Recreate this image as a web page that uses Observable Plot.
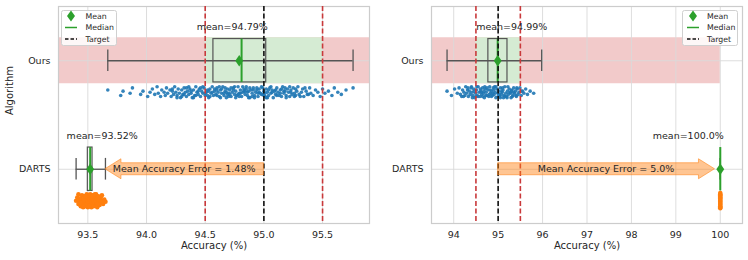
<!DOCTYPE html>
<html><head><meta charset="utf-8">
<script src="https://cdn.jsdelivr.net/npm/d3@7"></script>
<script src="https://cdn.jsdelivr.net/npm/@observablehq/plot@0.6"></script>
<style>
body{margin:0;background:#fff;font-family:"DejaVu Sans",sans-serif;}
#wrap{display:flex;width:748px;height:260px;}
.panel{position:relative;width:374px;height:260px;}
.legend{position:absolute;}
</style>
</head><body><div id="wrap"></div>
<script>
// ---------- data ----------
const algorithms = ["Ours", "DARTS"];
const targets = [95.0, 95.0];
const tolerance = 0.5;
const xDomains = [[93.25, 95.9], [93.5, 100.5]];
const tickValues = [[93.5, 94.0, 94.5, 95.0, 95.5], [94, 95, 96, 97, 98, 99, 100]];
const tickLabels = [["93.5", "94.0", "94.5", "95.0", "95.5"], ["94", "95", "96", "97", "98", "99", "100"]];
// per panel: [Ours, DARTS]
const whiskerLo = [[93.67, 93.40], [93.85, 100.0]];
const boxQ1     = [[94.57, 93.50], [94.78, 100.0]];
const medians   = [[94.81, 93.52], [94.99, 100.0]];
const boxQ3     = [[95.02, 93.54], [95.21, 100.0]];
const whiskerHi = [[95.76, 93.65], [95.98, 100.0]];
const means     = [[94.79, 93.52], [94.99, 100.0]];
const arrowTips = [93.65, 99.88];
const redBand = [0, 100];
// strip points: [accuracy, jitter (hundredths of a row)]
const oursStripLeft = [[93.67,-2],[93.78,3],[93.80,-1],[93.86,1],[93.88,-4],[93.95,2],[93.97,-1],[94.01,4],[94.03,0],[94.05,-3],[94.07,2],[94.09,-5],[94.10,1],[94.12,4],[94.13,-2],[94.15,0],[94.16,3],[94.17,-4],[94.18,1],[94.20,-2],[94.21,4],[94.22,-1],[94.23,2],[94.24,-5],[94.25,0],[94.26,3],[94.27,-3],[94.28,1],[94.29,5],[94.30,-2],[94.31,2],[94.32,-4],[94.33,0],[94.34,4],[94.35,-1],[94.36,2],[94.37,-3],[94.38,1],[94.39,5],[94.40,-2],[94.41,3],[94.42,-5],[94.43,0],[94.44,2],[94.45,-3],[94.46,4],[94.47,-1],[94.48,1],[94.49,-4],[94.50,3],[94.51,0],[94.52,-2],[94.53,5],[94.54,-3],[94.55,1],[94.56,-5],[94.57,3],[94.58,-1],[94.59,2],[94.60,-4],[94.61,0],[94.62,4],[94.63,-2],[94.64,1],[94.65,-5],[94.66,3],[94.67,-1],[94.68,5],[94.69,-3],[94.70,1],[94.71,-2],[94.72,4],[94.73,0],[94.74,-4],[94.75,2],[94.76,-1],[94.77,3],[94.78,-5],[94.79,1],[94.80,-2],[94.81,4],[94.82,0],[94.83,-3],[94.84,2],[94.85,-5],[94.86,3],[94.87,-1],[94.88,5],[94.89,-2],[94.90,1],[94.91,-4],[94.92,3],[94.93,0],[94.94,-2],[94.95,4],[94.96,-3],[94.97,1],[94.98,-5],[94.99,2],[95.00,-1],[95.01,4],[95.02,-3],[95.03,0],[95.04,3],[95.05,-4],[95.06,1],[95.07,-2],[95.08,5],[95.09,-1],[95.10,2],[95.11,-4],[95.12,0],[95.13,3],[95.14,-2],[95.15,4],[95.16,-5],[95.17,1],[95.18,-1],[95.19,3],[95.20,-3],[95.21,0],[95.22,4],[95.23,-2],[95.24,2],[95.25,-4],[95.26,1],[95.27,3],[95.28,-1],[95.29,-5],[95.30,2],[95.32,0],[95.33,-3],[95.34,4],[95.36,-1],[95.37,2],[95.39,-4],[95.40,1],[95.42,3],[95.44,-2],[95.46,0],[95.48,4],[95.50,-3],[95.52,1],[95.55,-1],[95.58,3],[95.60,-4],[95.63,0],[95.66,2],[95.70,-2],[95.76,-4],
  [94.30,4],[94.34,-4],[94.38,-1],[94.42,3],[94.46,-4],[94.50,1],[94.54,4],[94.58,-3],[94.62,-5],[94.66,1],[94.70,4],[94.74,-2],[94.78,2],[94.82,-5],[94.86,0],[94.90,4],[94.94,-4],[94.98,2],[95.02,5],[95.06,-5],[95.10,-2],[95.14,1],[95.18,-4],[95.22,-5],[95.26,4],[94.60,3],[94.64,-3],[94.68,0],[94.72,-4],[94.76,5],[94.80,1],[94.84,-1],[94.88,-4],[94.92,5],[94.96,0],[95.00,3],[95.04,-2],
  [94.22,-3],[94.26,5],[94.32,2],[94.36,-5],[94.40,5],[94.44,-1],[94.48,-5],[94.52,3],[94.56,0],[94.60,-2],[94.63,5],[94.67,-4],[94.71,2],[94.75,-5],[94.79,4],[94.83,-1],[94.87,5],[94.91,-2],[94.95,1],[94.99,-4],[95.03,5],[95.07,0],[95.11,3],[95.15,-3],[95.19,5],[95.23,0],[95.27,-3],[95.31,4],[95.35,-4],[95.38,2],[94.53,-1],[94.69,2],[94.85,-3],[95.01,1],[95.17,-1]];
const oursStripRight = [[93.85,-1],[93.95,3],[94.02,-3],[94.08,1],[94.12,-4],[94.15,2],[94.18,4],[94.20,-2],[94.23,0],[94.25,3],[94.27,-5],[94.29,1],[94.31,-2],[94.33,4],[94.35,-1],[94.37,2],[94.39,-4],[94.41,0],[94.43,3],[94.45,-3],[94.47,5],[94.49,1],[94.51,-2],[94.53,3],[94.55,-5],[94.57,0],[94.59,4],[94.61,-1],[94.63,2],[94.65,-4],[94.67,1],[94.69,5],[94.71,-3],[94.73,0],[94.75,3],[94.77,-2],[94.79,4],[94.81,-5],[94.83,1],[94.85,-1],[94.87,3],[94.89,-4],[94.91,2],[94.93,0],[94.95,5],[94.97,-3],[94.99,1],[95.01,-1],[95.03,4],[95.05,-4],[95.07,2],[95.09,0],[95.11,-2],[95.13,3],[95.15,-5],[95.17,1],[95.19,4],[95.21,-1],[95.23,2],[95.25,-3],[95.27,0],[95.29,5],[95.31,-2],[95.33,3],[95.35,-4],[95.37,1],[95.39,-1],[95.41,4],[95.43,-3],[95.45,2],[95.47,0],[95.49,-4],[95.52,3],[95.55,-1],[95.58,1],[95.62,-3],[95.66,2],[95.72,-1],[95.80,1],
  [94.40,-5],[94.50,4],[94.60,-3],[94.70,-5],[94.80,2],[94.90,-2],[95.00,4],[95.10,-4],[95.20,5],[95.30,-1],[95.40,3],[94.55,4],[94.75,-4],[94.95,-5],[95.15,4],[95.35,0],[94.65,4],[94.85,4],[95.05,5],
  [94.22,4],[94.32,-4],[94.42,5],[94.52,-5],[94.62,0],[94.72,3],[94.82,-2],[94.92,-5],[95.02,2],[95.12,5],[95.22,-5],[95.32,4],[95.42,-4],[95.52,-1],[94.46,-1],[94.68,-1],[94.88,1],[95.08,-1],[95.28,1]];
const dartsStripLeft = [[93.40,0],[93.41,-3],[93.42,3],[93.42,-6],[93.43,1],[93.44,5],[93.44,-2],[93.45,-5],[93.45,3],[93.46,0],[93.46,6],[93.47,-4],[93.47,2],[93.48,-1],[93.48,5],[93.49,-6],[93.49,3],[93.50,0],[93.50,-3],[93.50,6],[93.51,-5],[93.51,2],[93.52,-1],[93.52,4],[93.52,-6],[93.53,1],[93.53,-3],[93.53,6],[93.54,-2],[93.54,3],[93.55,-5],[93.55,0],[93.55,5],[93.56,-3],[93.56,2],[93.57,-6],[93.57,0],[93.57,4],[93.58,-2],[93.58,6],[93.59,-4],[93.59,1],[93.60,-1],[93.60,4],[93.61,-3],[93.61,2],[93.62,0],[93.62,-5],[93.63,3],[93.64,-1],[93.65,1],[93.46,-1],[93.48,-4],[93.51,5],[93.54,-5],[93.56,-6],[93.58,3],[93.43,-2],[93.44,2]];
const dartsStripRight = [[100,-7],[100,-6],[100,-4],[100,-2],[100,0],[100,2],[100,4],[100,6],[100,7],[100,-5],[100,-3],[100,1],[100,5],[100,-1],[100,3]];
const oursStrips = [oursStripLeft, oursStripRight];
const dartsStrips = [dartsStripLeft, dartsStripRight];

// ---------- styles ----------
const C = {
  text: "#262626", grid: "#d9d9d9", frame: "#cccccc", whisk: "#555555",
  green: "#2ca02c", blue: "#1f77b4", orange: "#ff7f0e", red: "#c9393b",
  redBand: "#f2caca", greenBand: "#d5ebd3"
};
const labelDx = [[-7, 12], [14, -32]];
const stripOffset = 0.29;

function py(v) { const r = Math.round(v * 100) / 100; return Number.isInteger(r) ? r.toFixed(1) : String(r); }

const thinDiamond = {
  draw(ctx, size) {
    const h = Math.sqrt(size / Math.PI), w = h * 0.68;
    ctx.moveTo(0, -h); ctx.lineTo(w, 0); ctx.lineTo(0, h); ctx.lineTo(-w, 0); ctx.closePath();
  }
};

function makePanel(p) {
  const dom = xDomains[p];
  const tgt = targets[p];
  const rows = algorithms.map((a, i) => ({
    i, lo: whiskerLo[p][i], q1: boxQ1[p][i], med: medians[p][i], q3: boxQ3[p][i],
    hi: whiskerHi[p][i], mean: means[p][i], label: "mean=" + py(means[p][i]) + "%", dx: labelDx[p][i]
  }));
  const ours = oursStrips[p].map(([x, j]) => ({x, y: 0 + stripOffset + j / 100}));
  const darts = dartsStrips[p].map(([x, j]) => ({x, y: 1 + stripOffset + j / 100}));
  const band = [{x1: Math.max(redBand[0], dom[0]), x2: Math.min(redBand[1], dom[1]), y1: -0.212, y2: 0.212}];
  const gband = [{x1: tgt - tolerance, x2: tgt + tolerance, y1: -0.212, y2: 0.212}];
  const dartsMean = means[p][1];
  const err = py(Math.abs(dartsMean - tgt));
  const tip = arrowTips[p];

  const arrow = (index, scales) => {
    const x0 = scales.x(tgt), x1 = scales.x(tip), y = scales.y(1);
    const dir = Math.sign(x1 - x0), hl = 16, bh = 6, hh = 10;
    const xb = x1 - dir * hl;
    const pts = [[x0, y - bh], [xb, y - bh], [xb, y - hh], [x1, y], [xb, y + hh], [xb, y + bh], [x0, y + bh]];
    const g = d3.create("svg:g");
    g.append("path").attr("d", "M" + pts.map(q => q.join(",")).join("L") + "Z")
      .attr("fill", C.orange).attr("fill-opacity", 0.45)
      .attr("stroke", C.orange).attr("stroke-opacity", 0.55).attr("stroke-width", 1);
    g.append("text").attr("x", (x0 + x1) / 2).attr("y", y).attr("dy", "0.35em")
      .attr("text-anchor", "middle").attr("fill", C.text).attr("font-size", "9.5px")
      .text("Mean Accuracy Error = " + err + "%");
    return g.node();
  };

  const marks = [
    Plot.rect(band, {x1: "x1", x2: "x2", y1: "y1", y2: "y2", fill: C.redBand}),
    Plot.rect(gband, {x1: "x1", x2: "x2", y1: "y1", y2: "y2", fill: C.greenBand}),
    Plot.ruleX(tickValues[p], {stroke: C.grid, strokeWidth: 1, strokeOpacity: 0.9}),
    Plot.ruleY([0, 1], {stroke: C.grid, strokeWidth: 1, strokeOpacity: 0.9}),
    Plot.frame({stroke: C.frame, strokeWidth: 1.2}),
    // whiskers and caps
    Plot.ruleY(rows, {y: "i", x1: "lo", x2: "hi", stroke: C.whisk, strokeWidth: 1.3}),
    Plot.ruleX(rows, {x: "lo", y1: d => d.i - 0.1, y2: d => d.i + 0.1, stroke: C.whisk, strokeWidth: 1.3}),
    Plot.ruleX(rows, {x: "hi", y1: d => d.i - 0.1, y2: d => d.i + 0.1, stroke: C.whisk, strokeWidth: 1.3}),
    // boxes
    Plot.rect(rows, {x1: "q1", x2: "q3", y1: d => d.i - 0.2, y2: d => d.i + 0.2, fill: "none", stroke: C.whisk, strokeWidth: 1.2}),
    Plot.ruleX(rows, {x: "med", y1: d => d.i - 0.2, y2: d => d.i + 0.2, stroke: C.green, strokeWidth: 2}),
    // strip points
    Plot.dot(ours, {x: "x", y: "y", r: 1.8, fill: C.blue, fillOpacity: 0.9}),
    Plot.dot(darts, {x: "x", y: "y", r: 2.3, fill: C.orange}),
    // tolerance / target lines
    Plot.ruleX([tgt - tolerance, tgt + tolerance], {stroke: C.red, strokeWidth: 1.6, strokeDasharray: "5,2.5"}),
    Plot.ruleX([tgt], {stroke: "#111", strokeWidth: 1.6, strokeDasharray: "5,2.5"}),
    // means
    Plot.dot(rows, {x: "mean", y: "i", r: 5.8, symbol: thinDiamond, fill: C.green, stroke: "none"}),
    ...rows.map(r => Plot.text([r], {x: "mean", y: d => d.i - 0.31, dx: r.dx, text: "label", fill: C.text, fontSize: 9.5})),
    arrow
  ];
  if (p === 0) {
    marks.push(Plot.text(["Algorithm"], {frameAnchor: "left", dx: -49, rotate: -90, fill: C.text, fontSize: 10}));
  }
  marks.push(Plot.text(["Accuracy (%)"], {frameAnchor: "bottom", dy: 25, fill: C.text, fontSize: 10}));

  return Plot.plot({
    width: 374, height: 260,
    marginLeft: p === 0 ? 58 : 57, marginRight: p === 0 ? 5 : 6, marginTop: 6, marginBottom: 37,
    style: {fontFamily: "DejaVu Sans", fontSize: "9.5px", color: C.text, background: "white"},
    x: {domain: dom, ticks: tickValues[p], tickFormat: d => tickLabels[p][tickValues[p].indexOf(d)], tickSize: 0, tickPadding: 8, label: null},
    y: {domain: [-0.5, 1.5], reverse: true, ticks: [0, 1], tickFormat: i => algorithms[i], tickSize: 0, tickPadding: 8, label: null},
    marks
  });
}

function legend(left, top, glyphX, textX) {
  const div = document.createElement("div");
  div.className = "legend";
  div.style.left = left + "px"; div.style.top = top + "px";
  const w = 55, h = 35;
  const svg = d3.create("svg").attr("width", w + 1).attr("height", h + 1);
  svg.append("rect").attr("x", 0.5).attr("y", 0.5).attr("width", w).attr("height", h).attr("rx", 2)
    .attr("fill", "white").attr("fill-opacity", 0.85).attr("stroke", "#d0d0d0").attr("stroke-width", 1);
  const ys = [6, 17.5, 29];
  svg.append("path").attr("d", `M${glyphX},${ys[0]-5.5}L${glyphX+4},${ys[0]}L${glyphX},${ys[0]+5.5}L${glyphX-4},${ys[0]}Z`).attr("fill", C.green);
  svg.append("line").attr("x1", glyphX - 6).attr("x2", glyphX + 6).attr("y1", ys[1]).attr("y2", ys[1]).attr("stroke", C.green).attr("stroke-width", 1.5);
  svg.append("line").attr("x1", glyphX - 6).attr("x2", glyphX + 6).attr("y1", ys[2]).attr("y2", ys[2]).attr("stroke", "#111").attr("stroke-width", 1.5).attr("stroke-dasharray", "3.5,2");
  ["Mean", "Median", "Target"].forEach((t, k) => {
    svg.append("text").attr("x", textX).attr("y", ys[k]).attr("dy", "0.35em").attr("font-size", "7.8px")
      .attr("font-family", "DejaVu Sans").attr("fill", C.text).text(t);
  });
  div.appendChild(svg.node());
  return div;
}

const wrap = document.getElementById("wrap");
[0, 1].forEach(p => {
  const d = document.createElement("div");
  d.className = "panel";
  d.appendChild(makePanel(p));
  if (p === 0) d.appendChild(legend(61, 10, 10, 24.5));
  else d.appendChild(legend(308, 10, 11, 25));
  wrap.appendChild(d);
});
</script>
</body></html>
